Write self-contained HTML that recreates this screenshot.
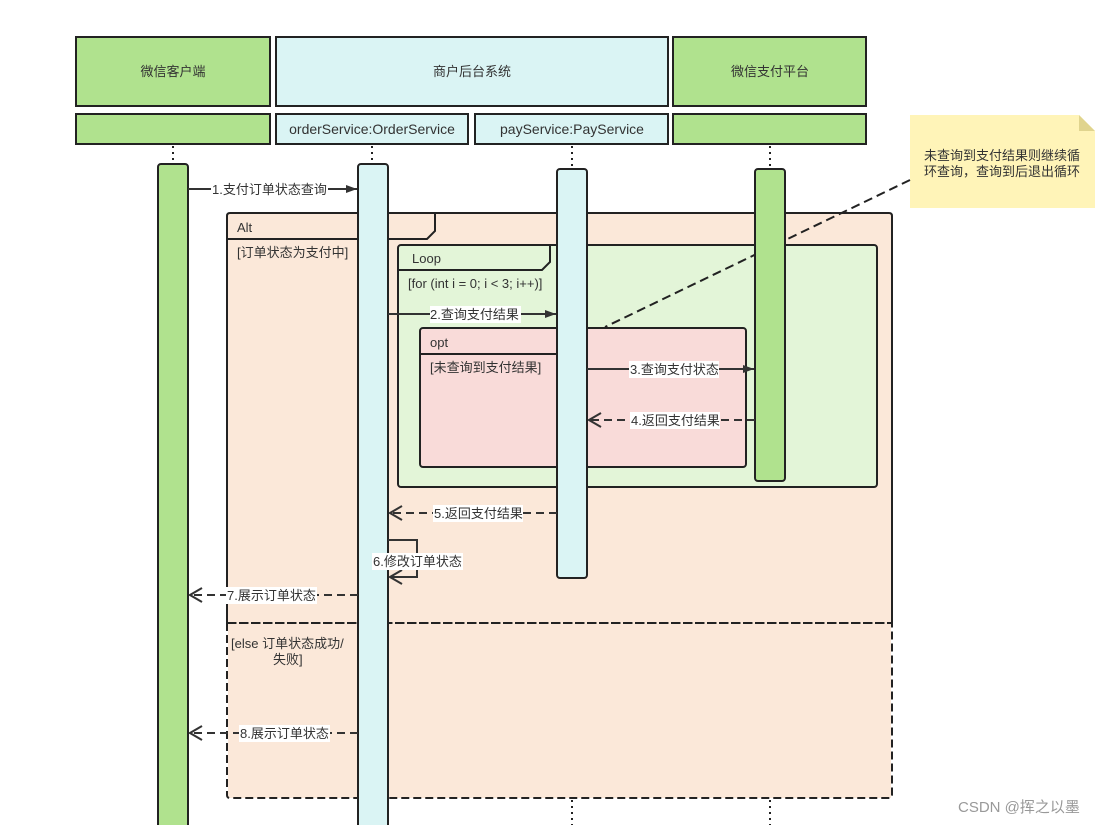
<!DOCTYPE html>
<html><head><meta charset="utf-8"><style>
html,body{margin:0;padding:0;background:#fff;}
svg{display:block;font-family:"Liberation Sans","Noto Sans CJK SC",sans-serif;}
</style></head><body>
<svg width="1111" height="825" viewBox="0 0 1111 825" xmlns="http://www.w3.org/2000/svg">
<defs>
<marker id="af" markerWidth="12" markerHeight="10" refX="11" refY="5" orient="auto" markerUnits="userSpaceOnUse"><path d="M0,1 L11,5 L0,9 Z" fill="#333"/></marker>
<marker id="ao" markerWidth="14" markerHeight="16" refX="13" refY="8" orient="auto" markerUnits="userSpaceOnUse"><path d="M1,1 L13,8 L1,15" fill="none" stroke="#333" stroke-width="2"/></marker>
</defs>
<g stroke="#222" stroke-width="2">
<rect x="76" y="37" width="194" height="69" fill="#b0e28e"/>
<rect x="276" y="37" width="392" height="69" fill="#daf4f4"/>
<rect x="673" y="37" width="193" height="69" fill="#b0e28e"/>
<rect x="76" y="114" width="194" height="30" fill="#b0e28e"/>
<rect x="276" y="114" width="192" height="30" fill="#daf4f4"/>
<rect x="475" y="114" width="193" height="30" fill="#daf4f4"/>
<rect x="673" y="114" width="193" height="30" fill="#b0e28e"/>
</g>
<g font-size="13" fill="#333" text-anchor="middle">
<text x="173" y="76">微信客户端</text>
<text x="472" y="76">商户后台系统</text>
<text x="770" y="76">微信支付平台</text>
<text x="372" y="134" font-size="14">orderService:OrderService</text>
<text x="572" y="134" font-size="14">payService:PayService</text>
</g>
<g stroke="#222" stroke-width="2" stroke-dasharray="2,4">
<line x1="173" y1="146" x2="173" y2="164"/>
<line x1="372" y1="146" x2="372" y2="164"/>
<line x1="572" y1="146" x2="572" y2="169"/>
<line x1="770" y1="146" x2="770" y2="169"/>
<line x1="572" y1="800" x2="572" y2="825"/>
<line x1="770" y1="800" x2="770" y2="825"/>
</g>
<path d="M227,623 L227,216 Q227,213 230,213 L889,213 Q892,213 892,216 L892,623" fill="#fbe8d9" stroke="#222" stroke-width="2"/>
<rect x="228" y="623" width="663" height="175" fill="#fbe8d9"/>
<path d="M227,623 L227,795 Q227,798 230,798 L889,798 Q892,798 892,795 L892,623 Z" fill="none" stroke="#222" stroke-width="2" stroke-dasharray="8,4"/>
<line x1="227" y1="623" x2="892" y2="623" stroke="#222" stroke-width="2" stroke-dasharray="8,4"/>
<path d="M227,239 L427,239 L435,231 L435,213" fill="none" stroke="#222" stroke-width="2"/>
<text x="237" y="232" font-size="13" fill="#333">Alt</text>
<text x="237" y="257" font-size="13" fill="#333">[订单状态为支付中]</text>
<text x="231" y="648" font-size="13" fill="#333">[else 订单状态成功/</text>
<text x="273" y="664" font-size="13" fill="#333">失败]</text>
<rect x="398" y="245" width="479" height="242" rx="3" fill="#e3f5d8" stroke="#222" stroke-width="2"/>
<path d="M398,270 L542,270 L550,262 L550,245" fill="none" stroke="#222" stroke-width="2"/>
<text x="412" y="263" font-size="13" fill="#333">Loop</text>
<text x="408" y="288" font-size="13" fill="#333">[for (int i = 0; i &lt; 3; i++)]</text>
<rect x="420" y="328" width="326" height="139" rx="3" fill="#f9dbd9" stroke="#222" stroke-width="2"/>
<path d="M420,354 L558,354 L566,346 L566,328" fill="none" stroke="#222" stroke-width="2"/>
<text x="430" y="347" font-size="13" fill="#333">opt</text>
<text x="430" y="372" font-size="13" fill="#333">[未查询到支付结果]</text>
<path d="M910,115 L1079,115 L1095,131 L1095,208 L910,208 Z" fill="#fff4b8"/>
<path d="M1079,115 L1079,131 L1095,131 Z" fill="#e0d48e"/>
<text x="1002" y="160" font-size="13" fill="#333" text-anchor="middle">未查询到支付结果则继续循</text>
<text x="1002" y="176" font-size="13" fill="#333" text-anchor="middle">环查询，查询到后退出循环</text>
<line x1="910" y1="180" x2="605" y2="327" stroke="#222" stroke-width="2" stroke-dasharray="9,5"/>
<g stroke="#222" stroke-width="2">
<rect x="158" y="164" width="30" height="670" rx="3" fill="#b0e28e"/>
<rect x="358" y="164" width="30" height="670" rx="3" fill="#daf4f4"/>
<rect x="557" y="169" width="30" height="409" rx="3" fill="#daf4f4"/>
<rect x="755" y="169" width="30" height="312" rx="3" fill="#b0e28e"/>
</g>
<g stroke="#333" stroke-width="2" fill="none">
<line x1="188" y1="189" x2="357" y2="189" marker-end="url(#af)"/>
<line x1="388" y1="314" x2="556" y2="314" marker-end="url(#af)"/>
<line x1="587" y1="369" x2="754" y2="369" marker-end="url(#af)"/>
<line x1="755" y1="420" x2="589" y2="420" stroke-dasharray="8,5" marker-end="url(#ao)"/>
<line x1="557" y1="513" x2="390" y2="513" stroke-dasharray="8,5" marker-end="url(#ao)"/>
<path d="M388,540 L417,540 L417,577 L390,577" marker-end="url(#ao)"/>
<line x1="358" y1="595" x2="190" y2="595" stroke-dasharray="8,5" marker-end="url(#ao)"/>
<line x1="358" y1="733" x2="190" y2="733" stroke-dasharray="8,5" marker-end="url(#ao)"/>
</g>
<g font-size="13" fill="#333">
<rect x="211" y="181" width="117" height="17" fill="#fff"/><text x="212" y="194">1.支付订单状态查询</text>
<rect x="430" y="306" width="91" height="17" fill="#fff"/><text x="430" y="319">2.查询支付结果</text>
<rect x="629" y="361" width="90" height="17" fill="#fff"/><text x="630" y="374">3.查询支付状态</text>
<rect x="630" y="412" width="90" height="17" fill="#fff"/><text x="631" y="425">4.返回支付结果</text>
<rect x="433" y="505" width="90" height="17" fill="#fff"/><text x="434" y="518">5.返回支付结果</text>
<rect x="372" y="553" width="91" height="17" fill="#fff"/><text x="373" y="566">6.修改订单状态</text>
<rect x="226" y="587" width="91" height="17" fill="#fff"/><text x="227" y="600">7.展示订单状态</text>
<rect x="239" y="725" width="91" height="17" fill="#fff"/><text x="240" y="738">8.展示订单状态</text>
</g>
<text x="958" y="812" font-size="15" fill="#999">CSDN @挥之以墨</text>
</svg>
</body></html>
